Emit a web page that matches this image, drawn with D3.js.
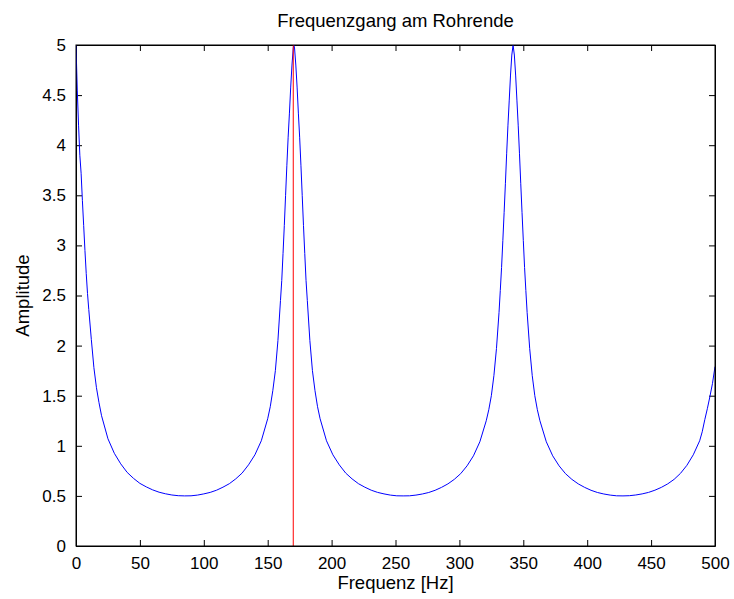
<!DOCTYPE html>
<html>
<head>
<meta charset="utf-8">
<script src="https://cdn.jsdelivr.net/npm/d3@7"></script>
<style>
    body { margin: 0; background: #fff; }
    svg { display: block; font-family: "Liberation Sans", Arial, sans-serif; }
    .axis text { font-size: 17px; fill: #000; }
    .axis line, .axis path { stroke: #000; }
</style>
</head>
<body>
<div id="chart"></div>
<script>
// values (Hz / amplitude)
const freq = [
    0, 1, 2, 3, 4, 5, 6, 7, 8, 9, 10, 12, 14, 16, 18, 20, 25, 30, 35, 40, 45, 50, 55, 60, 65, 70, 75, 80, 85,
    90, 95, 100, 105, 110, 115, 120, 125, 130, 135, 140, 145, 150, 152, 154, 156, 158, 160, 161, 162, 163, 164,
    165, 166, 167, 168, 169, 170, 170.5, 171, 172, 173, 174, 175, 176, 177, 178, 179, 180, 181, 183, 185, 187,
    189, 191, 196, 201, 206, 211, 216, 221, 226, 231, 236, 241, 246, 251, 256,
    261, 266, 271, 276, 281, 286, 291, 296, 301, 306, 311, 316, 321, 323, 325, 327, 329, 331, 332, 333, 334,
    335, 336, 337, 338, 339, 340, 341, 342, 343, 344, 345, 346, 347, 348, 349, 350, 351, 352, 353, 355, 357,
    359, 361, 363, 368, 373, 378, 383, 388, 393, 398, 403, 408, 413, 418, 423, 428,
    433, 438, 443, 448, 453, 458, 463, 468, 473, 478, 483, 488, 490, 492, 494, 496, 498, 500
]
const amplitude = [
    5.0, 4.55, 4.2, 3.9, 3.72, 3.45, 3.2, 2.95, 2.72, 2.52, 2.36, 2.06, 1.78, 1.58, 1.43, 1.3, 1.07, 0.925, 0.82,
    0.735, 0.675, 0.625, 0.59, 0.56, 0.537, 0.521, 0.509, 0.502, 0.5,
    0.501, 0.508, 0.52, 0.535, 0.557, 0.587, 0.622, 0.67, 0.728, 0.81, 0.91, 1.05, 1.27, 1.39, 1.55, 1.75, 2.05,
    2.45, 2.65, 2.92, 3.2, 3.5, 3.8, 4.08, 4.32, 4.58, 4.8, 4.97, 5.0, 4.97, 4.8, 4.58, 4.32, 4.08, 3.8, 3.5,
    3.2, 2.92, 2.65, 2.45, 2.05, 1.75, 1.55, 1.39, 1.27, 1.05, 0.91, 0.81, 0.728, 0.67, 0.622, 0.587, 0.557,
    0.535, 0.52, 0.508, 0.501, 0.5,
    0.501, 0.508, 0.519, 0.534, 0.556, 0.585, 0.62, 0.665, 0.722, 0.8, 0.9, 1.04, 1.25, 1.36, 1.5, 1.7, 1.97,
    2.33, 2.55, 2.78, 3.05, 3.33, 3.62, 3.92, 4.2, 4.45, 4.7, 4.9, 5.0, 4.9, 4.7, 4.45, 4.2, 3.92, 3.62, 3.33,
    3.05, 2.78, 2.55, 2.33, 1.97, 1.7, 1.5, 1.36, 1.25, 1.04, 0.9, 0.8, 0.722, 0.665, 0.62, 0.585, 0.556,
    0.534, 0.519, 0.508, 0.501, 0.5,
    0.502, 0.509, 0.52, 0.535, 0.557, 0.585, 0.62, 0.665, 0.725, 0.805, 0.91, 1.05, 1.14, 1.26, 1.37, 1.49,
    1.62, 1.79
]
const markerFreq = [170]

const xTicks = [0, 50, 100, 150, 200, 250, 300, 350, 400, 450, 500]
const yTicks = [0, 0.5, 1, 1.5, 2, 2.5, 3, 3.5, 4, 4.5, 5]

const W = 734, H = 599
const margin = { top: 45, right: 19, bottom: 53, left: 76 }
const width = W - margin.left - margin.right
const height = H - margin.top - margin.bottom

const svg = d3.select("#chart")
    .append("svg")
        .attr("width", W)
        .attr("height", H)

const g = svg.append("g")
    .attr("transform", "translate(" + margin.left + "," + margin.top + ")")

const x = d3.scaleLinear().domain([0, 500]).range([0, width])
const y = d3.scaleLinear().domain([0, 5]).range([height, 0])

g.append("defs").append("clipPath")
    .attr("id", "plotclip")
  .append("rect")
    .attr("width", width)
    .attr("height", height)

const tick = 6
const fmt = (d) => String(d)

g.append("g")
    .attr("class", "axis")
    .attr("transform", "translate(0," + height + ")")
    .call(d3.axisBottom(x).tickValues(xTicks).tickFormat(fmt).tickSizeInner(-tick).tickSizeOuter(0).tickPadding(11))

g.append("g")
    .attr("class", "axis")
    .call(d3.axisLeft(y).tickValues(yTicks).tickFormat(fmt).tickSizeInner(-tick).tickSizeOuter(0).tickPadding(10))

g.append("g")
    .attr("class", "axis")
    .call(d3.axisTop(x).tickValues(xTicks).tickFormat("").tickSizeInner(-tick).tickSizeOuter(0))

g.append("g")
    .attr("class", "axis")
    .attr("transform", "translate(" + width + ",0)")
    .call(d3.axisRight(y).tickValues(yTicks).tickFormat("").tickSizeInner(-tick).tickSizeOuter(0))

const points = freq.map((f, i) => [f, amplitude[i]])

const line = d3.line()
    .x((d) => x(d[0]))
    .y((d) => y(d[1]))

g.append("path")
    .datum(points)
    .attr("clip-path", "url(#plotclip)")
    .attr("fill", "none")
    .attr("stroke", "#0000ff")
    .attr("stroke-width", 1)
    .attr("d", line)

g.selectAll(".marker")
    .data(markerFreq)
    .enter()
    .append("line")
        .attr("class", "marker")
        .attr("x1", (d) => x(d))
        .attr("x2", (d) => x(d))
        .attr("y1", y(0))
        .attr("y2", y(5))
        .attr("stroke", "#ff0000")
        .attr("stroke-width", 1)

g.append("rect")
    .attr("width", width)
    .attr("height", height)
    .attr("fill", "none")
    .attr("stroke", "#000")
    .attr("stroke-width", 1)

svg.append("text")
    .attr("x", margin.left + width / 2)
    .attr("y", 27)
    .attr("text-anchor", "middle")
    .style("font-size", "18.5px")
    .text("Frequenzgang am Rohrende")

svg.append("text")
    .attr("x", margin.left + width / 2)
    .attr("y", 589)
    .attr("text-anchor", "middle")
    .style("font-size", "18.5px")
    .text("Frequenz [Hz]")

svg.append("text")
    .attr("transform", "translate(29," + (margin.top + height / 2) + ")rotate(-90)")
    .attr("text-anchor", "middle")
    .style("font-size", "18.5px")
    .text("Amplitude")
</script>
</body>
</html>
